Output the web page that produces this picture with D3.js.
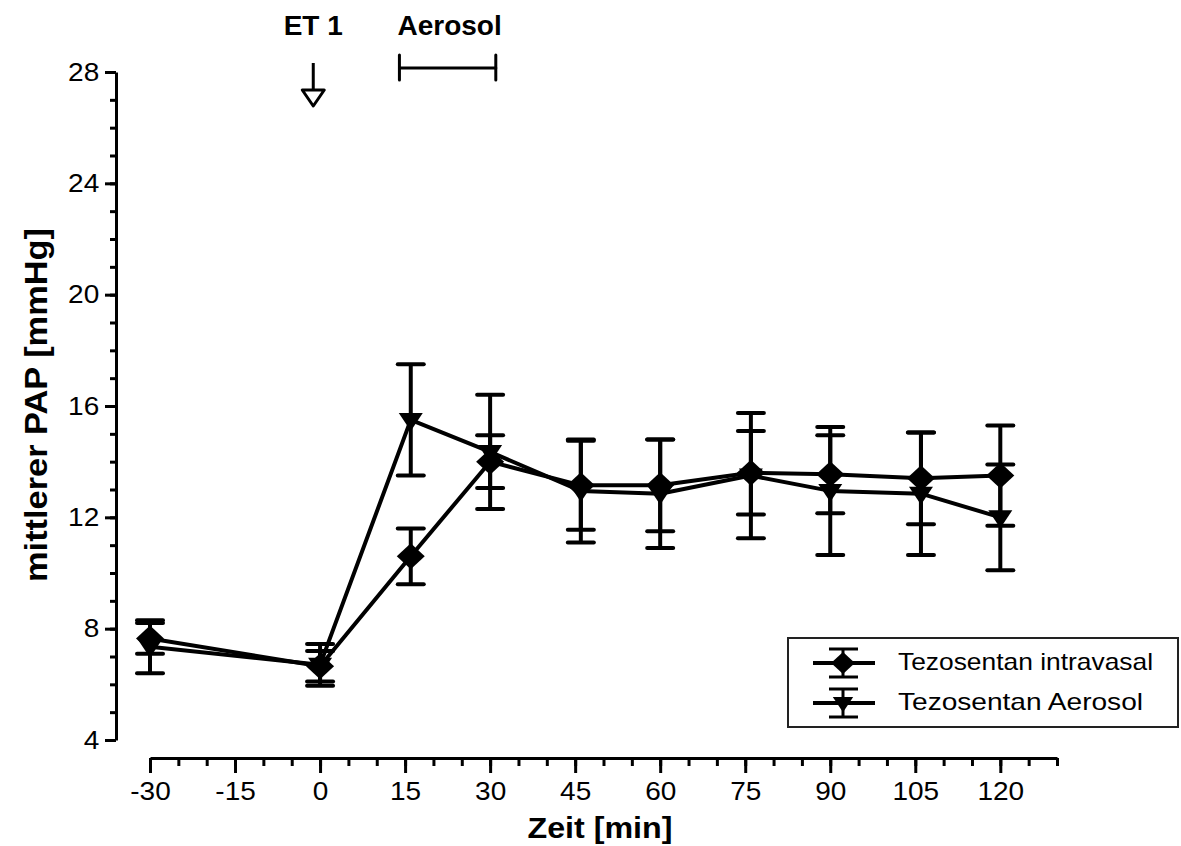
<!DOCTYPE html>
<html>
<head>
<meta charset="utf-8">
<script src="https://cdn.jsdelivr.net/npm/d3@7/dist/d3.min.js"></script>
<style>
  html, body { margin: 0; padding: 0; background: #fff; }
  svg { display: block; }
  text { font-family: "Liberation Sans", Arial, sans-serif; fill: #000; }
</style>
</head>
<body>
<svg id="chart" width="1181" height="846"></svg>
<script>
// Measurement times (min) and mean ± SEM of pulmonary arterial pressure
const times = [-30, 0, 16, 30, 46, 60, 76, 90, 106, 120];
const intravasalMean = [7.65, 6.65, 10.6, 14.0, 13.15, 13.15, 13.6, 13.55, 13.4, 13.5];
const intravasalErr  = [0.55, 0.55, 1.0, 0.95, 1.6, 1.65, 1.5, 1.4, 1.65, 1.8];
const aerosolMean = [7.35, 6.7, 15.5, 14.35, 12.95, 12.85, 13.5, 12.95, 12.85, 12.0];
const aerosolErr  = [0.95, 0.75, 2.0, 2.05, 1.85, 1.95, 2.25, 2.3, 2.2, 1.9];

const seriesNames = ["Tezosentan intravasal", "Tezosentan Aerosol"];
const xTicks = [-30, -15, 0, 15, 30, 45, 60, 75, 90, 105, 120];
const yTicks = [4, 8, 12, 16, 20, 24, 28];

// Event markers above the plot: ET-1 bolus and aerosol period
const et1Time = -1.2;
const aerosolStart = 14, aerosolEnd = 31;

const svg = d3.select("#chart");

const x = d3.scaleLinear().domain([-30, 130]).range([150, 1057]);
const y = d3.scaleLinear().domain([4, 28]).range([740, 72]);

// plain hyphen for negative tick values
const plainFormat = d => String(d);

// ---- Y axis ----
const yAxisX = 116;
const gy = svg.append("g").attr("transform", `translate(${yAxisX},0)`);
gy.call(d3.axisLeft(y).tickValues(d3.range(4, 29, 1)).tickSize(6).tickFormat("").tickSizeOuter(0));
gy.call(g => g.select(".domain").remove());
const gyMajor = svg.append("g").attr("transform", `translate(${yAxisX},0)`)
  .call(d3.axisLeft(y).tickValues(yTicks).tickSize(11).tickPadding(4).tickFormat(plainFormat).tickSizeOuter(0));
gyMajor.select(".domain").attr("stroke", "#000").attr("stroke-width", 3);
gyMajor.selectAll("text")
  .style("font-size", "25px").attr("font-family", null)
  .attr("transform", "scale(1.12,1)");

// ---- X axis ----
const xAxisY = 758;
const gxMinor = svg.append("g").attr("transform", `translate(0,${xAxisY})`)
  .call(d3.axisBottom(x).tickValues(d3.range(-30, 131, 5)).tickSize(8).tickFormat("").tickSizeOuter(0));
gxMinor.select(".domain").remove();
const gxMajor = svg.append("g").attr("transform", `translate(0,${xAxisY})`)
  .call(d3.axisBottom(x).tickValues(xTicks).tickSize(15).tickPadding(9).tickFormat(plainFormat).tickSizeOuter(0));
gxMajor.select(".domain").attr("stroke", "#000").attr("stroke-width", 3);
gxMajor.selectAll("text")
  .style("font-size", "25px").attr("font-family", null)
  .attr("transform", "scale(1.12,1)");
svg.selectAll("g.tick line").attr("stroke", "#000").attr("stroke-width", 3);

// Axis titles
svg.append("text")
  .attr("x", 600).attr("y", 838)
  .attr("text-anchor", "middle")
  .attr("textLength", 145).attr("lengthAdjust", "spacingAndGlyphs")
  .style("font-size", "29px").style("font-weight", "bold")
  .text("Zeit [min]");
svg.append("text")
  .attr("transform", "translate(47,405) rotate(-90)")
  .attr("text-anchor", "middle")
  .attr("textLength", 354).attr("lengthAdjust", "spacingAndGlyphs")
  .style("font-size", "31px").style("font-weight", "bold")
  .text("mittlerer PAP [mmHg]");

// ---- Event annotations ----
svg.append("text")
  .attr("x", x(et1Time)).attr("y", 35)
  .attr("text-anchor", "middle")
  .style("font-size", "28px").style("font-weight", "bold")
  .text("ET 1");
svg.append("line")
  .attr("x1", x(et1Time)).attr("x2", x(et1Time))
  .attr("y1", 63).attr("y2", 90)
  .attr("stroke", "#000").attr("stroke-width", 3);
svg.append("path")
  .attr("d", d3.line()([[x(et1Time) - 11, 90], [x(et1Time) + 11, 90], [x(et1Time), 106]]) + "Z")
  .attr("fill", "#fff").attr("stroke", "#000").attr("stroke-width", 3).attr("stroke-linejoin", "round");

svg.append("text")
  .attr("x", (x(aerosolStart) + x(aerosolEnd)) / 2 + 2).attr("y", 35)
  .attr("text-anchor", "middle")
  .style("font-size", "28px").style("font-weight", "bold")
  .text("Aerosol");
const bracket = svg.append("g").attr("stroke", "#000").attr("stroke-width", 3).attr("stroke-linecap", "round");
bracket.append("line").attr("x1", x(aerosolStart)).attr("x2", x(aerosolEnd)).attr("y1", 68).attr("y2", 68);
bracket.append("line").attr("x1", x(aerosolStart)).attr("x2", x(aerosolStart)).attr("y1", 55).attr("y2", 80);
bracket.append("line").attr("x1", x(aerosolEnd)).attr("x2", x(aerosolEnd)).attr("y1", 55).attr("y2", 80);

// ---- Marker shapes ----
const diamondPath = "M0,-13L14,0L0,13L-14,0Z";
const triangleDownPath = "M-12,-7L12,-7L0,11Z";

const series = [
  { name: seriesNames[0], mean: intravasalMean, err: intravasalErr, marker: diamondPath, textLen: 255 },
  { name: seriesNames[1], mean: aerosolMean, err: aerosolErr, marker: triangleDownPath, textLen: 245 }
];

const capHalf = 13;
const plot = svg.append("g");

// Error bars
series.forEach(s => {
  const g = plot.append("g").attr("stroke", "#000").attr("stroke-width", 4);
  times.forEach((t, i) => {
    const cx = x(t);
    const hi = y(s.mean[i] + s.err[i]);
    const lo = y(s.mean[i] - s.err[i]);
    g.append("line").attr("x1", cx).attr("x2", cx).attr("y1", hi).attr("y2", lo);
    g.append("line").attr("x1", cx - capHalf).attr("x2", cx + capHalf).attr("y1", hi).attr("y2", hi).attr("stroke-linecap", "round");
    g.append("line").attr("x1", cx - capHalf).attr("x2", cx + capHalf).attr("y1", lo).attr("y2", lo).attr("stroke-linecap", "round");
  });
});

// Connecting lines
const line = d3.line().x(d => x(d[0])).y(d => y(d[1]));
series.forEach(s => {
  plot.append("path")
    .datum(times.map((t, i) => [t, s.mean[i]]))
    .attr("d", line)
    .attr("fill", "none").attr("stroke", "#000").attr("stroke-width", 4).attr("stroke-linejoin", "round");
});

// Markers
series.forEach(s => {
  plot.append("g").selectAll("path")
    .data(times.map((t, i) => [t, s.mean[i]]))
    .join("path")
    .attr("d", s.marker)
    .attr("transform", d => `translate(${x(d[0])},${y(d[1])})`)
    .attr("fill", "#000");
});

// ---- Legend ----
const legend = svg.append("g");
legend.append("rect")
  .attr("x", 788).attr("y", 638).attr("width", 390).attr("height", 89)
  .attr("fill", "#fff").attr("stroke", "#222").attr("stroke-width", 2);
const rowY = [663, 703];
series.forEach((s, i) => {
  const ry = rowY[i];
  const g = legend.append("g").attr("stroke", "#000");
  g.append("line").attr("x1", 813).attr("x2", 875).attr("y1", ry).attr("y2", ry).attr("stroke-width", 4);
  g.append("line").attr("x1", 843).attr("x2", 843).attr("y1", ry - 14).attr("y2", ry + 14).attr("stroke-width", 3);
  g.append("line").attr("x1", 829).attr("x2", 858).attr("y1", ry - 14).attr("y2", ry - 14).attr("stroke-width", 3);
  g.append("line").attr("x1", 829).attr("x2", 858).attr("y1", ry + 14).attr("y2", ry + 14).attr("stroke-width", 3);
  legend.append("path").attr("d", s.marker).attr("transform", `translate(843,${ry}) scale(0.85)`).attr("fill", "#000");
  legend.append("text")
    .attr("x", 898).attr("y", ry + 7)
    .attr("textLength", s.textLen).attr("lengthAdjust", "spacingAndGlyphs")
    .style("font-size", "24px")
    .text(s.name);
});
</script>
</body>
</html>
